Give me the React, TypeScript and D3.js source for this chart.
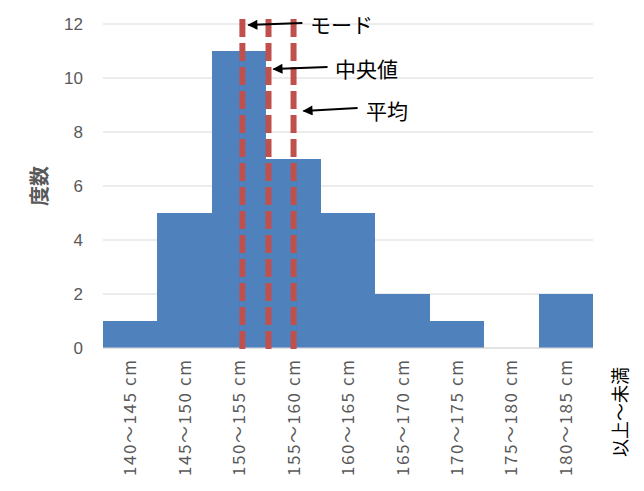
import React from "react";
import * as d3 from "d3";

const binStarts = [140, 145, 150, 155, 160, 165, 170, 175, 180];
const binWidth = 5;
const counts = [1, 5, 11, 7, 5, 2, 1, 0, 2];
const yTicks = [0, 2, 4, 6, 8, 10, 12];
const xLabels = binStarts.map((s) => `${s}～${s + binWidth} cm`);
const statNames = ["モード", "中央値", "平均"];
const statValues = [152.8, 155.2, 157.5];
const arrowTipY = [11.96, 10.33, 8.78];
const yTitle = "度数";
const xUnitNote = "以上～未満";

const W = 644;
const H = 491;
const plot = { left: 103, right: 593, top: 24, bottom: 348 };

export default function App() {
  const x = d3.scaleLinear().domain([140, 185]).range([plot.left, plot.right]);
  const y = d3.scaleLinear().domain([0, 12]).range([plot.bottom, plot.top]);
  const gray = "#595959";
  const jp = "'Noto Sans CJK JP', 'Noto Sans', sans-serif";
  const num = "'Liberation Sans', 'DejaVu Sans', sans-serif";

  const tipOffsets = [6, 5, 10];
  const arrowLen = [54, 54, 54];
  const labelStart = [310, 335, 366];
  const tailRise = [2, 2, 3];

  return (
    <svg
      width={W}
      height={H}
      style={{ position: "absolute", left: 0, top: 0, background: "#fff" }}
    >
      <defs>
        <marker
          id="ah"
          viewBox="0 0 10 10"
          refX="9"
          refY="5"
          markerWidth="7"
          markerHeight="5"
          orient="auto"
          markerUnits="strokeWidth"
        >
          <path d="M0,0 L10,5 L0,10 z" fill="#000" />
        </marker>
      </defs>
      {yTicks.map((t) => (
        <g key={t}>
          <line
            x1={plot.left}
            x2={plot.right}
            y1={y(t)}
            y2={y(t)}
            stroke="#D9D9D9"
            strokeWidth={1}
          />
          <text
            x={83}
            y={y(t)}
            dy="0.36em"
            textAnchor="end"
            fontFamily={num}
            fontSize={17}
            fill={gray}
          >
            {t}
          </text>
        </g>
      ))}
      <g shapeRendering="crispEdges">
        {counts.map((c, i) => (
          <rect
            key={i}
            x={Math.round(x(binStarts[i]))}
            width={Math.round(x(binStarts[i] + binWidth)) - Math.round(x(binStarts[i]))}
            y={y(c)}
            height={y(0) - y(c)}
            fill="#4F81BD"
          />
        ))}
      </g>
      <line
        x1={plot.left}
        x2={plot.right}
        y1={y(0)}
        y2={y(0)}
        stroke="#D9D9D9"
        strokeWidth={1}
      />
      {statValues.map((v, i) => (
        <line
          key={i}
          x1={x(v)}
          x2={x(v)}
          y1={19}
          y2={349}
          stroke="#C0504D"
          strokeWidth={6}
          strokeDasharray="18 6"
        />
      ))}
      {statValues.map((v, i) => {
        const tipX = x(v) + tipOffsets[i];
        const tipY = y(arrowTipY[i]);
        return (
          <g key={i}>
            <line
              x1={tipX + arrowLen[i]}
              y1={tipY - tailRise[i]}
              x2={tipX}
              y2={tipY}
              stroke="#000"
              strokeWidth={2}
              markerEnd="url(#ah)"
            />
            <text
              x={labelStart[i]}
              y={tipY}
              dy="0.36em"
              fontFamily={jp}
              fontSize={21}
              fill="#000"
            >
              {statNames[i]}
            </text>
          </g>
        );
      })}
      {xLabels.map((lab, i) => {
        const cx = x(binStarts[i] + binWidth / 2);
        return (
          <text
            key={i}
            transform={`translate(${cx},360) rotate(-90)`}
            dy="0.36em"
            textAnchor="end"
            fontFamily={jp}
            fontSize={17}
            fill={gray}
            textLength={116}
            lengthAdjust="spacing"
          >
            {lab}
          </text>
        );
      })}
      <text
        transform="translate(621,367) rotate(-90)"
        dy="0.36em"
        textAnchor="end"
        fontFamily={jp}
        fontSize={18}
        fill="#000"
      >
        {xUnitNote}
      </text>
      <text
        transform="translate(40,186) rotate(-90)"
        dy="0.36em"
        textAnchor="middle"
        fontFamily={jp}
        fontSize={20}
        fontWeight="bold"
        fill={gray}
      >
        {yTitle}
      </text>
    </svg>
  );
}
